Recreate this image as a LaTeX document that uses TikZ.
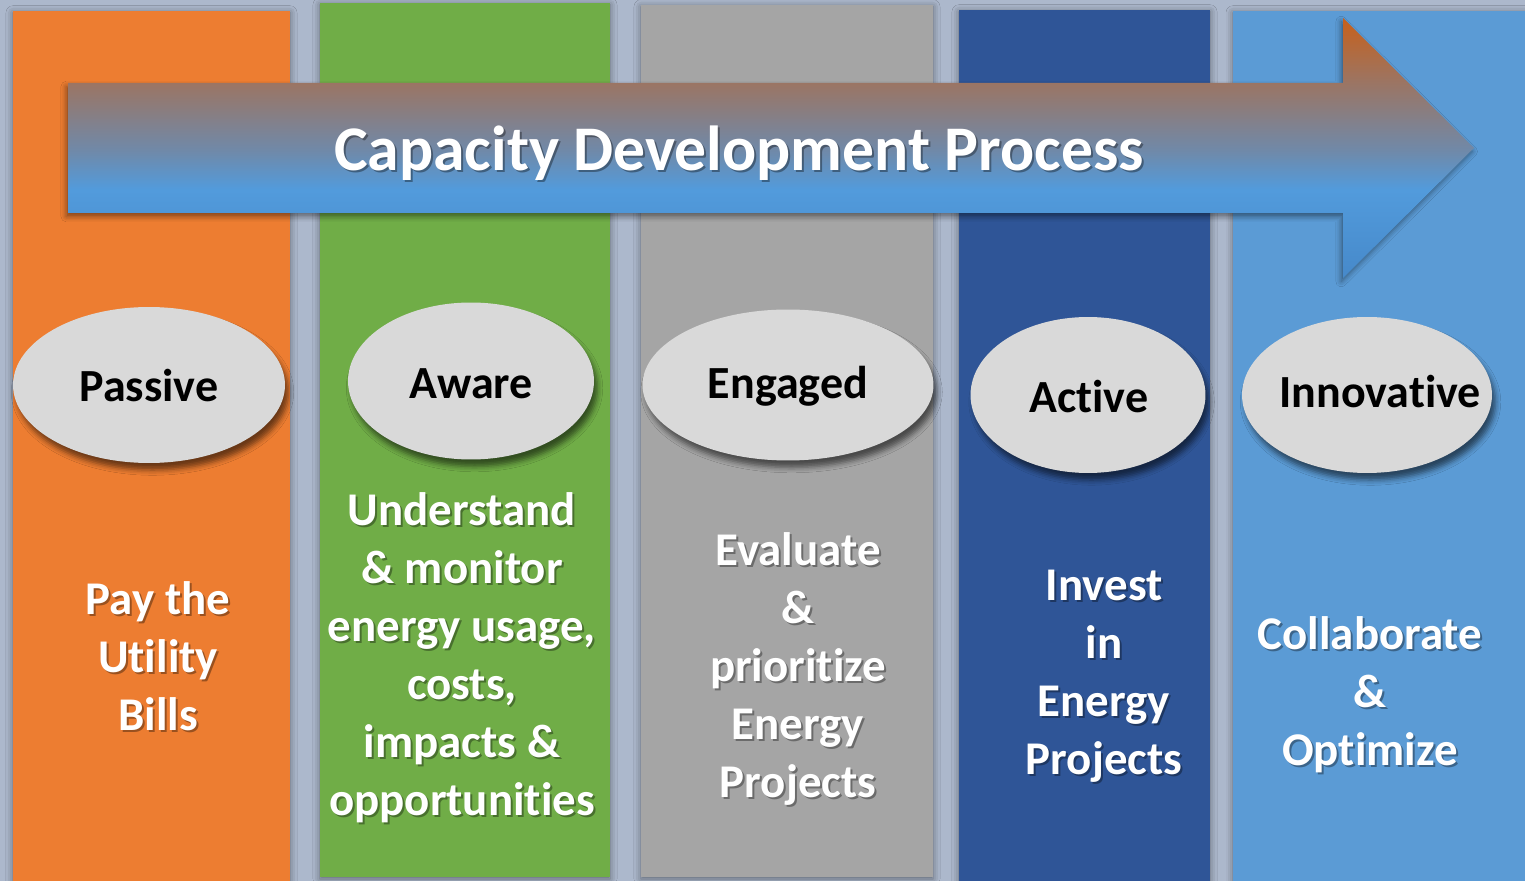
\documentclass[tikz,border=0pt]{standalone}
\usepackage{fontspec}
\setmainfont{Carlito}[Ligatures=NoCommon]
\usetikzlibrary{shapes.geometric,shadows,shadows.blur,calc}
\definecolor{bgc}{HTML}{ACB8CC}
\definecolor{corange}{HTML}{ED7D31}
\definecolor{cgreen}{HTML}{70AD47}
\definecolor{cgray}{HTML}{A5A5A5}
\definecolor{cdblue}{HTML}{2F5597}
\definecolor{clblue}{HTML}{5B9BD5}
\definecolor{ellfill}{HTML}{D9D9D9}
\definecolor{abot}{HTML}{4689CA}
\definecolor{ablue}{HTML}{529BDC}
\definecolor{amid}{HTML}{7089A8}
\definecolor{abrown}{HTML}{9B7564}
\definecolor{atop}{HTML}{C8601A}
\pgfdeclareverticalshading{arrowshade}{100bp}{color(0bp)=(abot); color(25bp)=(abot); color(42bp)=(ablue); color(49.6bp)=(amid); color(62.5bp)=(abrown); color(75bp)=(atop); color(100bp)=(atop)}
\tikzset{
  col/.style={blur shadow={shadow xshift=0pt, shadow yshift=-1pt, shadow blur radius=4pt, shadow opacity=45}},
  ell/.style={ellipse, fill=ellfill, inner sep=0pt,
    blur shadow={shadow xshift=2pt, shadow yshift=-4pt, shadow blur radius=3pt, shadow opacity=55}},
  elltxt/.style={font=\fontsize{26.2}{30}\selectfont\bfseries, text=black, inner sep=0pt},
  body/.style={align=center, text=white, font=\fontsize{26.7}{33}\selectfont\bfseries, inner sep=0pt},
  bodysh/.style={body, text=black, opacity=0.35},
  ttl/.style={text=white, font=\fontsize{36.2}{40}\selectfont\bfseries, inner sep=0pt},
  ttlsh/.style={ttl, text=black, opacity=0.35},
}
\begin{document}
\begin{tikzpicture}[x=0.02cm, y=-0.02cm]
\useasboundingbox (0,0) rectangle (1525,881);
\clip (0,0) rectangle (1525,881);
\fill[bgc] (-10,-10) rectangle (1535,891);
% columns
\path[col, fill=corange] (13,11) rectangle (290,895);
\path[col, fill=cgreen] (320,3) rectangle (610,877);
\path[col, fill=cgray] (641,5) rectangle (933,877);
\path[col, fill=cdblue] (959,10) rectangle (1210,895);
\path[col, fill=clblue] (1233,11) rectangle (1540,895);
% arrow
\path[shading=arrowshade, blur shadow={shadow xshift=-1pt, shadow yshift=-2pt, shadow blur radius=3pt, shadow opacity=45}]
  (68,83) -- (1343,83) -- (1343,18) -- (1474,148) -- (1343,278) -- (1343,213) -- (68,213) -- cycle;
\node[ttlsh] (title-sh) at (741,155) {Capacity Development Process};
\node[ttl] (title) at (739,153) {Capacity Development Process};
% ellipses
\node[ell, minimum width=5.44cm, minimum height=3.12cm] (passive) at (149,385) {};
\node[ell, minimum width=4.92cm, minimum height=3.14cm] (aware) at (471,381) {};
\node[ell, minimum width=5.82cm, minimum height=3.02cm] (engaged) at (788,385) {};
\node[ell, minimum width=4.70cm, minimum height=3.12cm] (active) at (1088,395) {};
\node[ell, minimum width=5.00cm, minimum height=3.12cm] (innov) at (1367,395) {};
\node[elltxt] (passive-t) at (149,386) {Passive};
\node[elltxt] (aware-t) at (471,384) {Aware};
\node[elltxt] (engaged-t) at (788,386) {Engaged};
\node[elltxt] (active-t) at (1089,397) {Active};
\node[elltxt] (innov-t) at (1380,392) {Innovative};
% body texts
\node[bodysh] (t1-sh) at (160,658) {Pay the\\Utility\\Bills};
\node[body] (t1) at (158,656) {Pay the\\Utility\\Bills};
\node[bodysh] (t2-sh) at (464,660) {Understand\\\& monitor\\energy usage,\\costs,\\impacts \&\\opportunities};
\node[body] (t2) at (462,658) {Understand\\\& monitor\\energy usage,\\costs,\\impacts \&\\opportunities};
\node[bodysh] (t3-sh) at (800,671) {Evaluate\\\&\\prioritize\\Energy\\Projects};
\node[body] (t3) at (798,669) {Evaluate\\\&\\prioritize\\Energy\\Projects};
\node[bodysh] (t4-sh) at (1106,678) {Invest\\in\\Energy\\Projects};
\node[body] (t4) at (1104,676) {Invest\\in\\Energy\\Projects};
\node[bodysh] (t5-sh) at (1372,697) {Collaborate\\\&\\Optimize};
\node[body] (t5) at (1370,695) {Collaborate\\\&\\Optimize};
\end{tikzpicture}
\end{document}
